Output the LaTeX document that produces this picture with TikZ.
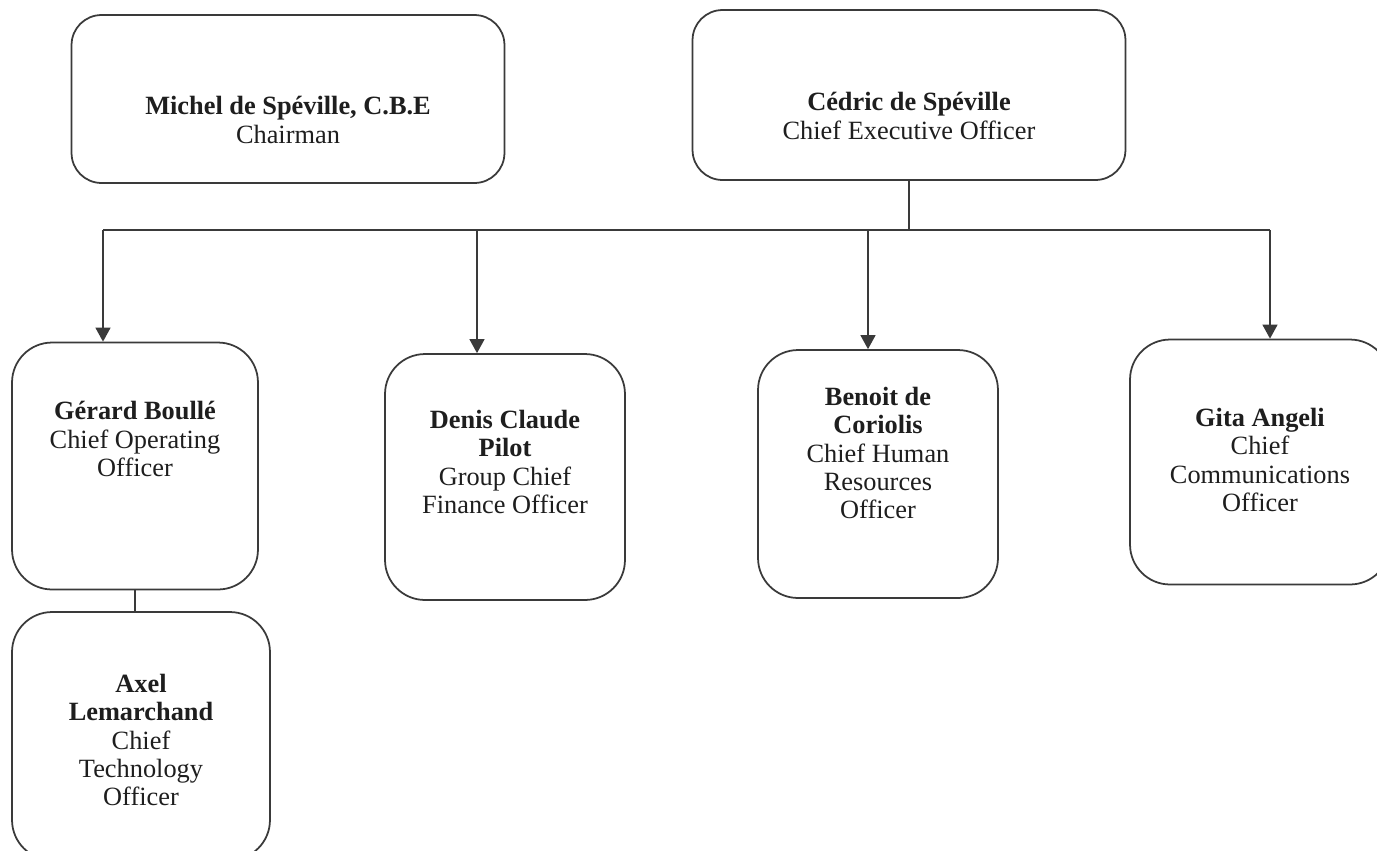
\documentclass[tikz,border=0pt]{standalone}
\usepackage{fontspec}
\setmainfont{Liberation Serif}
\usetikzlibrary{positioning,arrows.meta}

\definecolor{linegray}{HTML}{3A3A3A}
\definecolor{textgray}{HTML}{1E1E1E}

\tikzset{
    post/.style={draw=linegray, line width=1pt, rounded corners=0.8cm, fill=white},
    posttext/.style={align=center, text=textgray, font=\fontsize{15}{16}\selectfont},
    link/.style={draw=linegray, line width=1pt},
    arrow/.style={link, -{Triangle[width=8.5pt,length=8pt]}}
}

\begin{document}
\begin{tikzpicture}[x=0.02cm, y=-0.02cm]
    \useasboundingbox (0,0) rectangle (1377,850);

    % board level
    \node (chair) [post, rounded corners=0.6cm, minimum width=8.66cm, minimum height=3.36cm] at (288,99) {};
    \node (chairText) [posttext] at (288,120) {\textbf{Michel de Spéville, C.B.E}\\Chairman};

    \node (ceo) [post, rounded corners=0.6cm, minimum width=8.66cm, minimum height=3.4cm] at (909,95) {};
    \node (ceoText) [posttext] at (909,116) {\textbf{Cédric de Spéville}\\Chief Executive Officer};

    % executive committee
    \node (coo) [post, minimum width=4.92cm, minimum height=4.94cm] at (135,466) {};
    \node (cooText) [posttext] at (135,439) {\textbf{Gérard Boullé}\\Chief Operating\\Officer};

    \node (cfo) [post, minimum width=4.8cm, minimum height=4.92cm] at (505,477) {};
    \node (cfoText) [posttext] at (505,462) {\textbf{Denis Claude}\\\textbf{Pilot}\\Group Chief\\Finance Officer};

    \node (chro) [post, minimum width=4.8cm, minimum height=4.96cm] at (878,474) {};
    \node (chroText) [posttext] at (878,453) {\textbf{Benoit de}\\\textbf{Coriolis}\\Chief Human\\Resources\\Officer};

    \node (cco) [post, minimum width=5.2cm, minimum height=4.9cm] at (1260,462) {};
    \node (ccoText) [posttext] at (1260,460) {\textbf{Gita Angeli}\\Chief\\Communications\\Officer};

    \node (cto) [post, minimum width=5.16cm, minimum height=4.96cm] at (141,736) {};
    \node (ctoText) [posttext] at (141,740) {\textbf{Axel}\\\textbf{Lemarchand}\\Chief\\Technology\\Officer};

    % reporting lines
    \coordinate (busL) at (103,230);
    \coordinate (busR) at (1270,230);
    \draw[link] (busL) -- (busR);
    \draw[link] (ceo.south) -- (ceo.south |- busL);
    \foreach \x/\n in {103/coo, 477/cfo, 868/chro, 1270/cco}
        \draw[arrow] (\x,230) -- (\x,0 |- \n.north);
    \draw[link] (coo.south) -- (coo.south |- cto.north);
\end{tikzpicture}
\end{document}
